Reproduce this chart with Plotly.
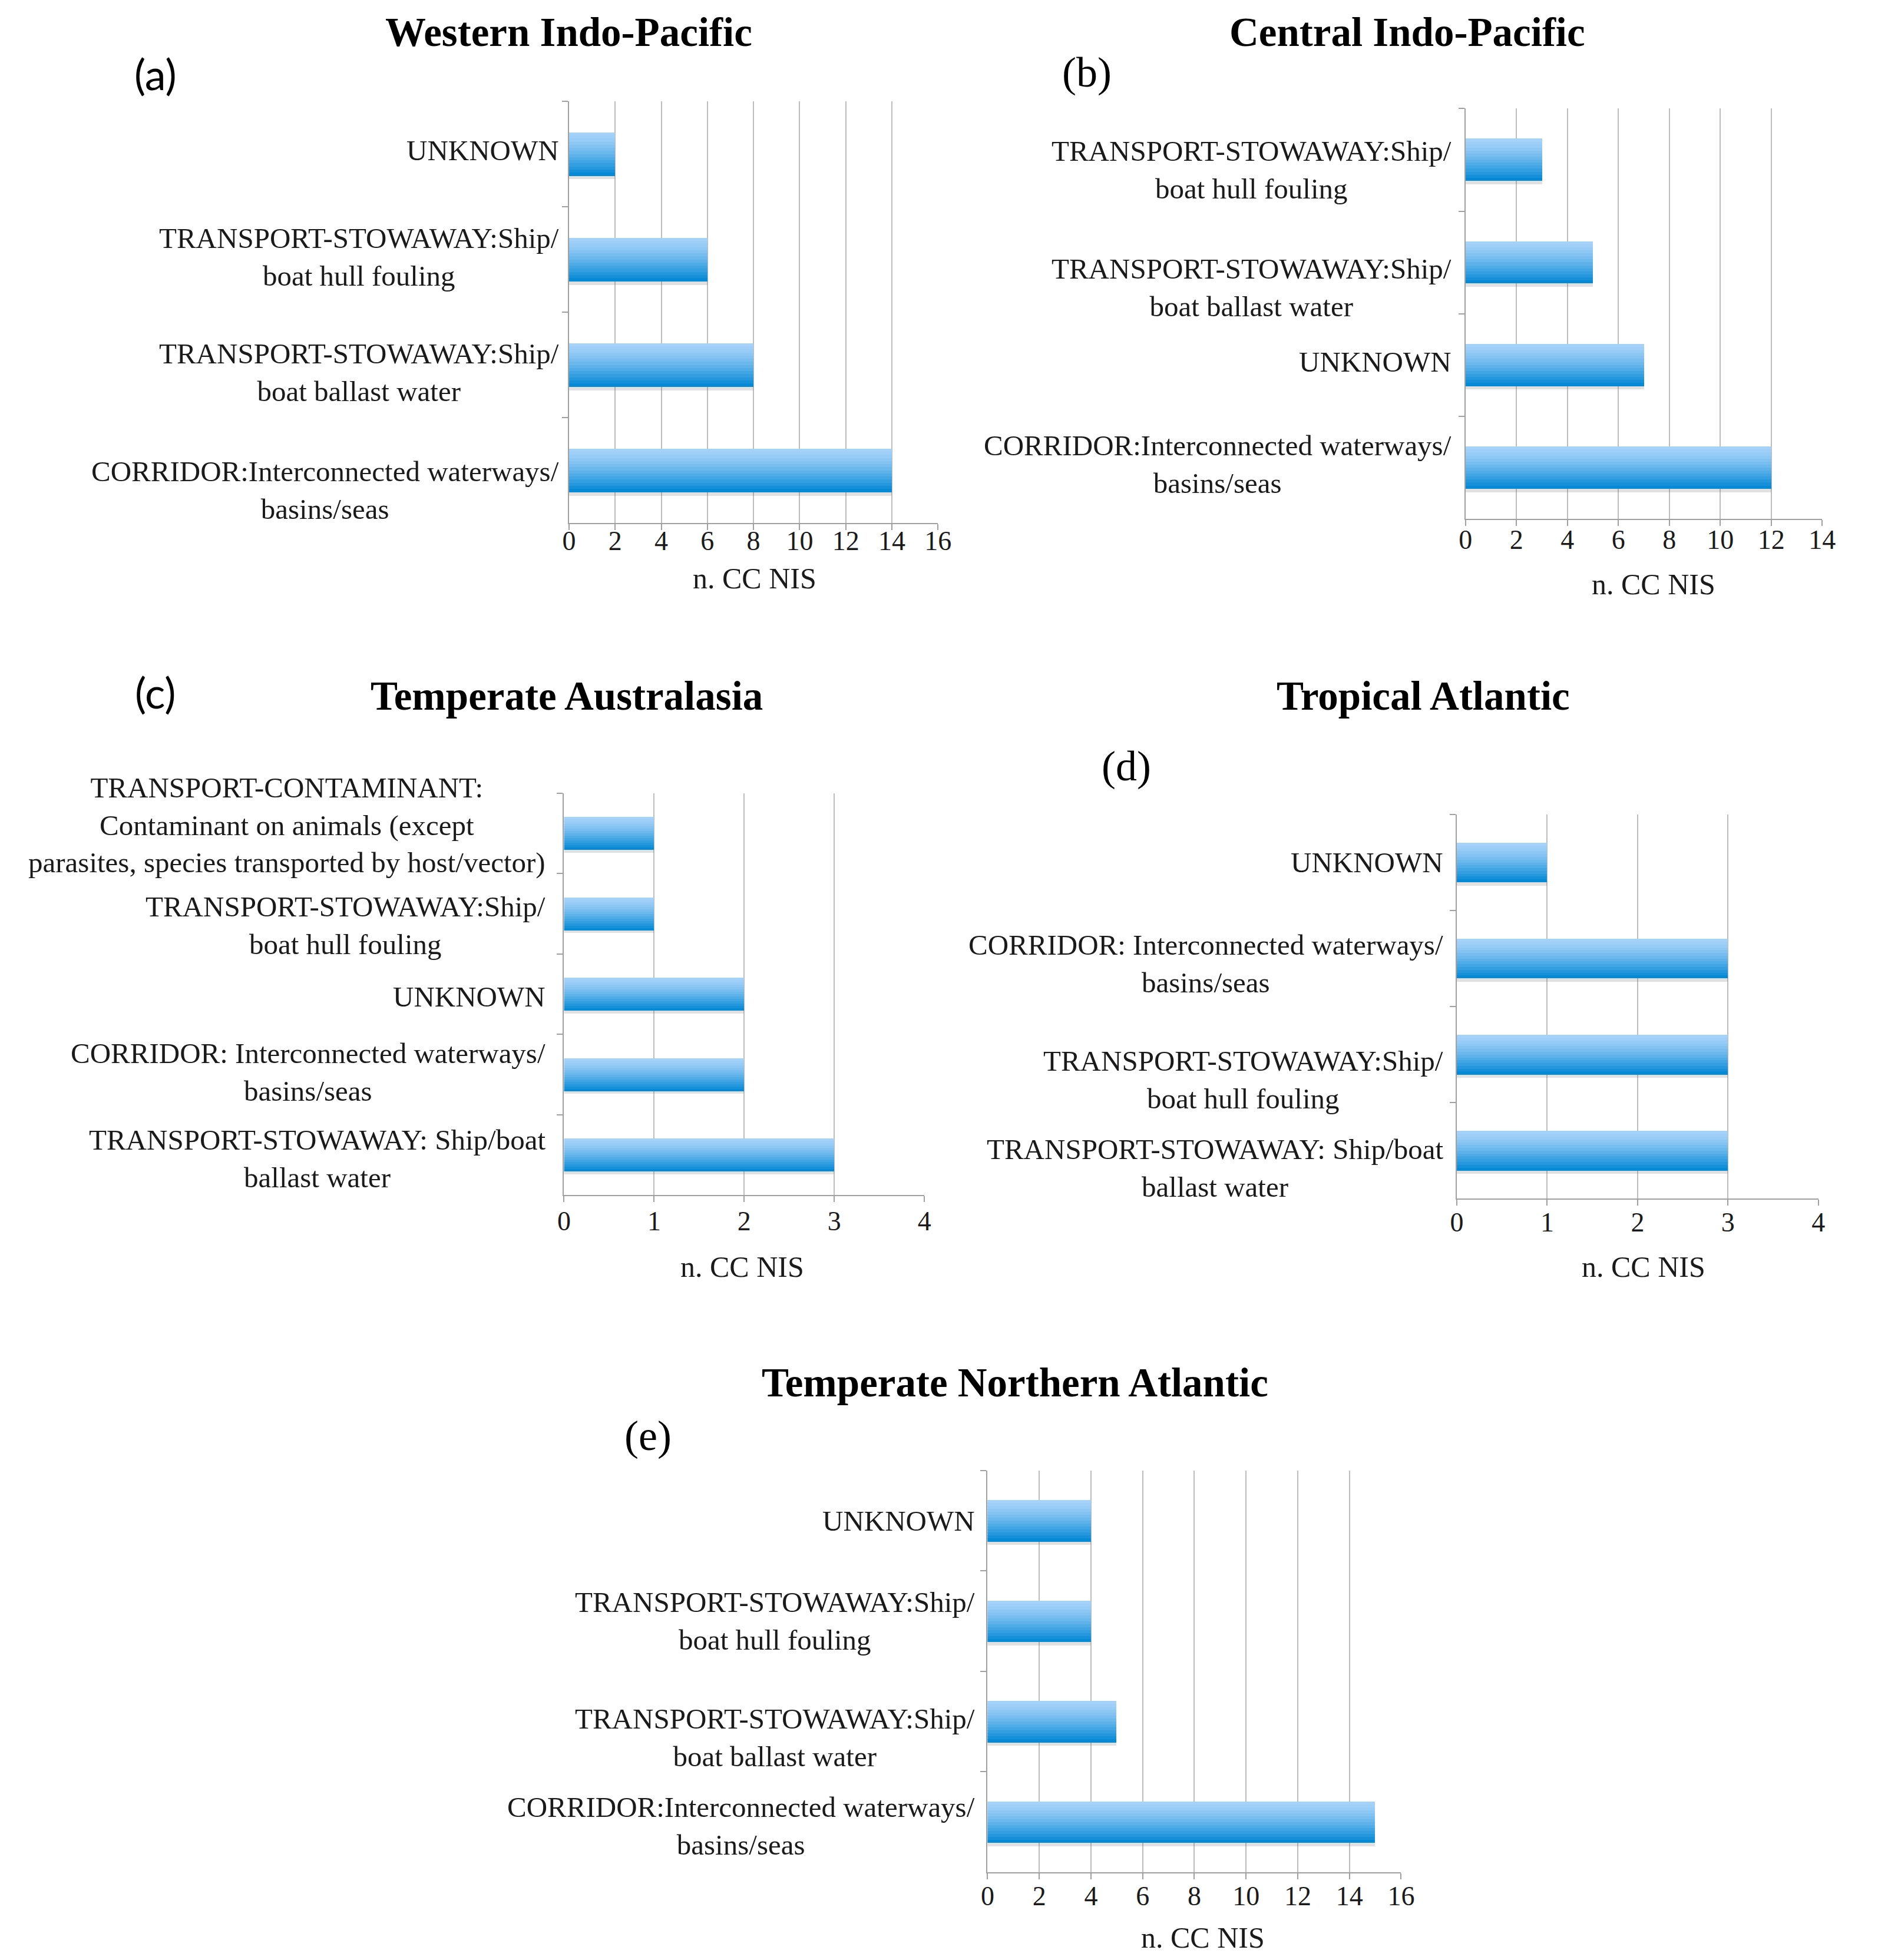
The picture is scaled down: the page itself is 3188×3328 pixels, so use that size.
import plotly.graph_objects as go

# ---------------- data ----------------
a_title = "Western Indo-Pacific"
a_categories = ["UNKNOWN",
                "TRANSPORT-STOWAWAY:Ship/<br>boat hull fouling",
                "TRANSPORT-STOWAWAY:Ship/<br>boat ballast water",
                "CORRIDOR:Interconnected waterways/<br>basins/seas"]
a_values = [2, 6, 8, 14]
a_ticks = [0, 2, 4, 6, 8, 10, 12, 14, 16]

b_title = "Central Indo-Pacific"
b_categories = ["TRANSPORT-STOWAWAY:Ship/<br>boat hull fouling",
                "TRANSPORT-STOWAWAY:Ship/<br>boat ballast water",
                "UNKNOWN",
                "CORRIDOR:Interconnected waterways/<br>basins/seas"]
b_values = [3, 5, 7, 12]
b_ticks = [0, 2, 4, 6, 8, 10, 12, 14]

c_title = "Temperate Australasia"
c_categories = ["TRANSPORT-CONTAMINANT:<br>Contaminant on animals (except<br>parasites, species transported by host/vector)",
                "TRANSPORT-STOWAWAY:Ship/<br>boat hull fouling",
                "UNKNOWN",
                "CORRIDOR: Interconnected waterways/<br>basins/seas",
                "TRANSPORT-STOWAWAY: Ship/boat<br>ballast water"]
c_values = [1, 1, 2, 2, 3]
c_ticks = [0, 1, 2, 3, 4]

d_title = "Tropical Atlantic"
d_categories = ["UNKNOWN",
                "CORRIDOR: Interconnected waterways/<br>basins/seas",
                "TRANSPORT-STOWAWAY:Ship/<br>boat hull fouling",
                "TRANSPORT-STOWAWAY: Ship/boat<br>ballast water"]
d_values = [1, 3, 3, 3]
d_ticks = [0, 1, 2, 3, 4]

e_title = "Temperate Northern Atlantic"
e_categories = ["UNKNOWN",
                "TRANSPORT-STOWAWAY:Ship/<br>boat hull fouling",
                "TRANSPORT-STOWAWAY:Ship/<br>boat ballast water",
                "CORRIDOR:Interconnected waterways/<br>basins/seas"]
e_values = [4, 4, 5, 15]
e_ticks = [0, 2, 4, 6, 8, 10, 12, 14, 16]

x_label = "n. CC NIS"
panel_letters = ["(a)", "(b)", "(c)", "(d)", "(e)"]

# ---------------- layout geometry ----------------
W, H = 3188, 3328
SX, SY = 1500.0, 1566.0      # measurement frame of the reference
K = W / SX                   # frame px -> page px
TEXT_LIFT = 8                # page px: visual centre correction for text

panels = [
    dict(title=a_title, cats=a_categories, vals=a_values, ticks=a_ticks,
         xd=(450, 748), yd=(77, 414), tpos=(450, 26), lpos=(116, 59), xlpos=(600, 462),
         letter_font="Lato", gap=7, tstand=-21, lshift=[0, 1, 9, 19]),
    dict(title=b_title, cats=b_categories, vals=b_values, ticks=b_ticks,
         xd=(1174, 1462), yd=(83, 411), tpos=(1127, 26), lpos=(868, 58), xlpos=(1326, 467),
         letter_font="Liberation Serif", gap=10, tstand=-17, lshift=[11, 23, 0, 0]),
    dict(title=c_title, cats=c_categories, vals=c_values, ticks=c_ticks,
         xd=(446, 737), yd=(630, 951), tpos=(448, 556), lpos=(116, 553), xlpos=(590, 1012),
         letter_font="Lato", gap=14, tstand=-7, lshift=[-4, 12, 5, 1, 6]),
    dict(title=d_title, cats=d_categories, vals=d_values, ticks=d_ticks,
         xd=(1167, 1459), yd=(647, 954), tpos=(1140, 556), lpos=(900, 612), xlpos=(1318, 1012),
         letter_font="Liberation Serif", gap=10, tstand=-12, lshift=[3, 7, 23, 17]),
    dict(title=e_title, cats=e_categories, vals=e_values, ticks=e_ticks,
         xd=(788, 1122), yd=(1171, 1492), tpos=(810, 1105), lpos=(514, 1147), xlpos=(962, 1548),
         letter_font="Liberation Serif", gap=9, tstand=-11, lshift=[3, 3, 16, 6]),
]

SERIF = "Liberation Serif"
LABEL_SIZE = 49
TICK_SIZE = 46
XLABEL_SIZE = 50
TITLE_SIZE = 69
LETTER_SIZE = 72
TEXT = "#1a1a1a"
GRID = "#bdbdbd"
LINE = "#a0a0a0"

BAR_W = 0.41
N_STRIPS = 14
TOP_RGB = (165, 210, 249)
BOT_RGB = (6, 138, 214)

fig = go.Figure()
annotations = []
layout = dict(width=W, height=H, margin=dict(l=0, r=0, t=0, b=0),
              paper_bgcolor="white", plot_bgcolor="white",
              barmode="overlay", showlegend=False, bargap=0)

for p_i, p in enumerate(panels):
    sfx = "" if p_i == 0 else str(p_i + 1)
    xa, ya = "x" + sfx, "y" + sfx
    n = len(p["cats"])
    # soft shadow just below each bar
    fig.add_trace(go.Bar(x=p["vals"], y=p["cats"], orientation="h",
                         xaxis=xa, yaxis=ya, width=0.035, offset=BAR_W / 2,
                         marker=dict(color="rgba(120,120,120,0.22)", line=dict(width=0)),
                         hoverinfo="skip"))
    # vertical colour gradient built from thin stacked strips of the same bar
    for k in range(N_STRIPS):
        t = (k / (N_STRIPS - 1)) ** 1.3
        col = "rgb(%d,%d,%d)" % tuple(round(TOP_RGB[c] + (BOT_RGB[c] - TOP_RGB[c]) * t) for c in range(3))
        fig.add_trace(go.Bar(x=p["vals"], y=p["cats"], orientation="h",
                             xaxis=xa, yaxis=ya,
                             width=BAR_W / N_STRIPS + 0.002,
                             offset=-BAR_W / 2 + k * BAR_W / N_STRIPS,
                             marker=dict(color=col, line=dict(width=0)),
                             hoverinfo="skip"))
    x0, x1 = p["xd"]
    y0, y1 = p["yd"]
    layout["xaxis" + sfx] = dict(
        domain=[x0 / SX, x1 / SX], anchor=ya,
        range=[0, p["ticks"][-1]], tickvals=p["ticks"],
        showgrid=True, gridcolor=GRID, gridwidth=2,
        showline=True, linecolor=LINE, linewidth=2,
        ticks="outside", ticklen=10, tickwidth=2, tickcolor=LINE,
        ticklabelstandoff=p["tstand"],
        tickfont=dict(family=SERIF, size=TICK_SIZE, color=TEXT),
        zeroline=False, fixedrange=True)
    layout["yaxis" + sfx] = dict(
        domain=[1 - y1 / SY, 1 - y0 / SY], anchor=xa,
        type="category", categoryorder="array", categoryarray=p["cats"],
        range=[n - 0.5, -0.5],
        showgrid=False, showline=True, linecolor=LINE, linewidth=2,
        ticks="outside", tickson="boundaries", ticklen=10, tickwidth=2, tickcolor=LINE,
        showticklabels=False, zeroline=False, fixedrange=True)
    # category labels: centred multi-line text, right-anchored next to the axis
    for i, cat in enumerate(p["cats"]):
        annotations.append(dict(
            x=0, xref=xa + " domain", xanchor="right", xshift=-p["gap"] * K,
            y=i, yref=ya, yanchor="middle", yshift=-p["lshift"][i] * K + TEXT_LIFT - 2,
            text=cat, showarrow=False, align="center",
            font=dict(family=SERIF, size=LABEL_SIZE, color=TEXT)))
    # panel title
    annotations.append(dict(
        x=p["tpos"][0] / SX, y=1 - p["tpos"][1] / SY, xref="paper", yref="paper",
        xanchor="center", yanchor="middle", showarrow=False, yshift=TEXT_LIFT,
        text="<b>%s</b>" % p["title"],
        font=dict(family=SERIF, size=TITLE_SIZE, color="black")))
    # panel letter
    annotations.append(dict(
        x=p["lpos"][0] / SX, y=1 - p["lpos"][1] / SY, xref="paper", yref="paper",
        xanchor="center", yanchor="middle", showarrow=False, yshift=TEXT_LIFT,
        text=panel_letters[p_i],
        font=dict(family=p["letter_font"], size=LETTER_SIZE, color="black")))
    # x-axis title
    annotations.append(dict(
        x=p["xlpos"][0] / SX, y=1 - p["xlpos"][1] / SY, xref="paper", yref="paper",
        xanchor="center", yanchor="middle", showarrow=False, yshift=TEXT_LIFT,
        text=x_label,
        font=dict(family=SERIF, size=XLABEL_SIZE, color=TEXT)))

layout["annotations"] = annotations
fig.update_layout(**layout)
fig.write_html("out.html")
